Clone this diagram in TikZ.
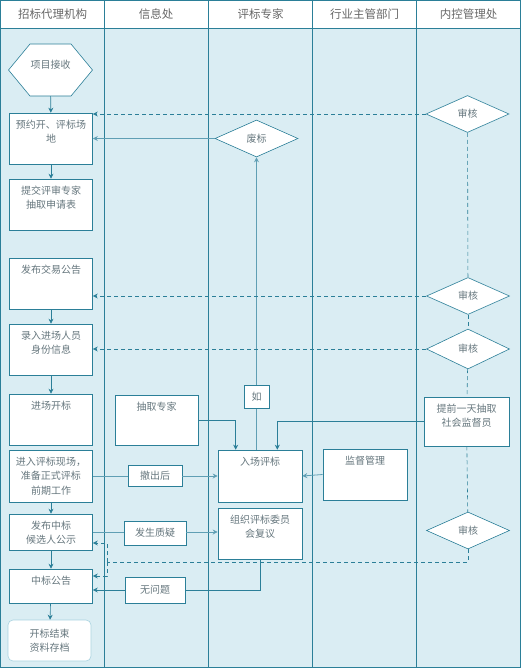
\documentclass[tikz,border=0pt]{standalone}
\usepackage{fontspec}
\newfontfamily\cjk{Noto Sans CJK SC}
\usetikzlibrary{arrows.meta,shapes.geometric}
\definecolor{lane}{HTML}{2B7F98}
\definecolor{lanebg}{HTML}{DAEDF3}
\definecolor{wire}{HTML}{5F9FB4}
\definecolor{txt}{HTML}{66777E}
\definecolor{soft}{HTML}{A9D3E0}

\begin{document}
\begin{tikzpicture}[
    x=1pt, y=-1pt,
    >={Stealth[length=5pt,width=5pt]},
    head/.style={font=\cjk\fontsize{11.5}{13}\selectfont, text=black!60},
    box/.style={draw=lane, fill=white, semithick, minimum width=83pt, minimum height=51pt, inner sep=0pt},
    toptext/.style={anchor=north, label distance=-5pt, align=center, inner sep=2pt, font=\cjk\fontsize{10}{14.5}\selectfont, text=txt},
    tag/.style={draw=lane, fill=white, semithick, inner sep=0pt, font=\cjk\fontsize{10}{12}\selectfont, text=txt},
    check/.style={diamond, draw=lane, fill=white, semithick, minimum width=83pt, minimum height=37pt, inner sep=0pt, font=\cjk\fontsize{10}{12}\selectfont, text=txt},
    flow/.style={->, lane, semithick},
    link/.style={wire, thick},
    audit/.style={lane, semithick, dash pattern=on 4pt off 3pt}
]
\useasboundingbox (0,0) rectangle (521,668);

% swimlanes
\fill[lanebg] (0,28.5) rectangle (521,668);
\draw[lane, semithick] (0.5,0.5) rectangle (520.5,667.5);
\draw[lane, semithick] (0,28.5) -- (521,28.5);
\foreach \x in {104.5,208.5,312.5,416.5}
    \draw[lane, semithick] (\x,0) -- (\x,668);
\node[head] (hagent) at (52.5,14) {招标代理机构};
\node[head] (hinfo) at (156,14) {信息处};
\node[head] (hexpert) at (260.5,14) {评标专家};
\node[head] (hdept) at (364.5,14) {行业主管部门};
\node[head] (hctrl) at (468.5,14) {内控管理处};

% agency lane
% hexagon drawn by hand, node on top carries the text
\draw[lane, semithick, fill=white] (8.5,70) -- (30,44) -- (71,44) -- (92.5,70) -- (71,96) -- (30,96) -- cycle;
\node[minimum width=84pt, minimum height=52pt, inner sep=0pt,
    label={[toptext, label distance=-14pt]north:{项目接收}}] (recv) at (50.5,70) {};
\node[box, label={[toptext]north:{预约开、评标场\\地}}] (book) at (51,138.5) {};
\node[box, label={[toptext]north:{提交评审专家\\抽取申请表}}] (apply) at (51,204.5) {};
\node[box, label={[toptext]north:{发布交易公告}}] (notice) at (51,283.5) {};
\node[box, label={[toptext]north:{录入进场人员\\身份信息}}] (entry) at (51,349.5) {};
\node[box, label={[toptext]north:{进场开标}}] (open) at (51,419.5) {};
\node[box, minimum height=52pt, label={[toptext]north:{进入评标现场，\\准备正式评标\\前期工作}}] (prep) at (51,476) {};
\node[box, minimum height=36pt, label={[toptext]north:{发布中标\\候选人公示}}] (publicize) at (51,532) {};
\node[box, minimum height=34pt, label={[toptext]north:{中标公告}}] (award) at (51,586) {};
\node[box, draw=soft, rounded corners=5pt, minimum height=41pt, label={[toptext, label distance=-7pt]north:{开标结束\\资料存档}}] (archive) at (49.5,640.5) {};

% info lane
\node[box, minimum height=50pt, label={[toptext]north:{抽取专家}}] (pick) at (156.5,420) {};
\node[tag, minimum width=54pt, minimum height=21pt] (withdraw) at (155,476) {撤出后};
\node[tag, minimum width=62pt, minimum height=24pt] (dispute) at (155,533) {发生质疑};
\node[tag, minimum width=60pt, minimum height=26pt] (noissue) at (155,590) {无问题};

% expert lane
\node[check] (void) at (256.5,138.5) {废标};
\node[box, minimum width=84pt, minimum height=52pt, label={[toptext]north:{入场评标}}] (review) at (260,476) {};
\node[box, minimum width=84pt, label={[toptext]north:{组织评标委员\\会复议}}] (recheck) at (260,533.5) {};

% department lane
\node[box, minimum width=84pt, label={[toptext]north:{监督管理}}] (supervise) at (365,474.5) {};

% control lane
\node[check] (aud1) at (467.5,114) {审核};
\node[check] (aud2) at (468,296) {审核};
\node[check, minimum height=40pt] (aud3) at (468,349) {审核};
\node[box, minimum width=85pt, minimum height=49pt, label={[toptext]north:{提前一天抽取\\社会监督员}}] (monitor) at (466.5,421.5) {};
\node[check] (aud4) at (468,530.5) {审核};

% main flow
\draw[flow] (recv) -- (book);
\draw[flow] (book) -- (apply);
\draw[flow] (notice) -- (entry);
\draw[flow] (entry) -- (open);
\draw[flow] (prep) -- (publicize);
\draw[flow] (publicize) -- (award);
\draw[flow] (award) -- (archive);

% expert review
\draw[link, ->] (void.west) -- (book.east);
\draw[link, ->] (void.south |- review.north) -- node[tag, pos=0.18, minimum width=25pt, minimum height=23pt] (ifnode) {如} (void.south);
\draw[flow] (pick.east) -| ([xshift=18pt]review.north west);
\draw[flow] (monitor.west) -| ([xshift=-25pt]review.north east);
\draw[link] (prep.east) -- (withdraw.west);
\draw[link, ->] (withdraw.east) -- (review.west);
\draw[link, ->] (supervise.west) -- (review.east);
\draw[link] (publicize.east) -- (dispute.west |- publicize.east);
\draw[link, ->] (dispute.east |- publicize.east) -- (recheck.west |- publicize.east);
\draw[flow, -] (recheck.south) |- (noissue.east);
\draw[flow] (noissue.west) -- (noissue.west -| award.east);

% audits
\draw[audit, ->] (aud1.west) -- (aud1.west -| book.east);
\draw[audit, ->] (aud2.west) -- (aud2.west -| notice.east);
\draw[audit, ->] (aud3.west) -- (aud3.west -| entry.east);
\draw[audit] (aud1) -- (aud2);
\draw[audit] (aud2) -- (aud3);
\draw[audit] (aud3) -- (monitor);
\draw[audit] (monitor) -- (aud4);
\coordinate (fork) at (107,562);
\draw[audit] (aud4.south) |- (fork);
\draw[audit, ->] (fork) |- ([yshift=-11pt]publicize.east);
\draw[audit, ->] (fork) |- ([yshift=10pt]award.east);

\end{tikzpicture}
\end{document}
